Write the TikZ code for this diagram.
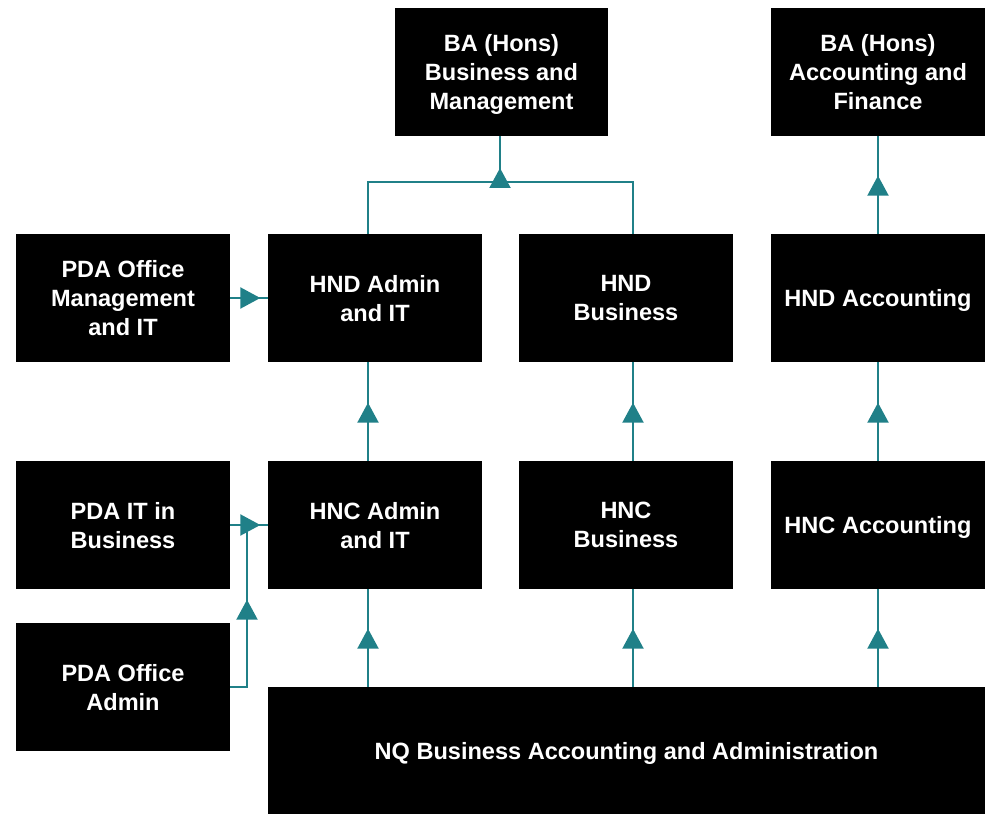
\documentclass[tikz,border=0pt]{standalone}
\usepackage{fontspec}
\setmainfont{Liberation Sans}
\usetikzlibrary{arrows.meta,decorations.markings}
\definecolor{teal}{RGB}{32,128,136}

\begin{document}
\begin{tikzpicture}[x=0.02cm,y=-0.02cm,
    box/.style={fill=black,text=white,align=center,inner sep=0pt,
      minimum width=4.28cm,minimum height=2.56cm,text depth=0pt,
      font=\fontsize{13.4}{16.5}\selectfont\bfseries},
    line/.style={draw=teal,line width=1.2pt},
    midtip/.style={postaction={decorate},decoration={markings,
      mark=at position #1 with {\arrow[teal]{Triangle[length=4mm,width=4.2mm]}}}}]
      \useasboundingbox (0,0) rectangle (991,814);

      \node[box] (babus) at (501.5,72) {BA (Hons)\\Business and\\Management};
      \node[box] (baacc) at (878,72) {BA (Hons)\\Accounting and\\Finance};

      \node[box] (pdamgmt) at (123,298) {PDA Office\\Management\\and IT};
      \node[box] (hndadmin) at (375,298) {HND Admin\\and IT};
      \node[box] (hndbus) at (626,298) {HND\\Business};
      \node[box] (hndacc) at (878,298) {HND Accounting};

      \node[box] (pdait) at (123,525) {PDA IT in\\Business};
      \node[box] (hncadmin) at (375,525) {HNC Admin\\and IT};
      \node[box] (hncbus) at (626,525) {HNC\\Business};
      \node[box] (hncacc) at (878,525) {HNC Accounting};

      \node[box] (pdaoff) at (123,687) {PDA Office\\Admin};
      \node[box,minimum width=14.34cm,minimum height=2.54cm] (nq) at (626.5,750.5)
        {NQ Business Accounting and Administration};

      \coordinate (colA) at (368,0);
      \coordinate (colB) at (633,0);
      \coordinate (colC) at (878,0);
      \coordinate (split) at (500,182);
      \coordinate (merge) at (247,525);

      \draw[line] (hndadmin.north -| colA) |- (split) -| (hndbus.north -| colB);
      \draw[line,midtip=0.28cm] (split) -- (split |- babus.south);
      \draw[line,midtip=1.16cm] (hndacc.north -| colC) -- (baacc.south -| colC);

      \draw[line,midtip=0.6cm] (pdamgmt.east) -- (hndadmin.west);
      \draw[line,midtip=1.16cm] (hncadmin.north -| colA) -- (hndadmin.south -| colA);
      \draw[line,midtip=1.16cm] (hncbus.north -| colB) -- (hndbus.south -| colB);
      \draw[line,midtip=1.16cm] (hncacc.north -| colC) -- (hndacc.south -| colC);

      \draw[line,midtip=0.6cm] (pdait.east) -- (hncadmin.west);
      \draw[line,midtip=2.08cm] (pdaoff.east) -| (merge);
      \draw[line,midtip=1.16cm] (nq.north -| colA) -- (hncadmin.south -| colA);
      \draw[line,midtip=1.16cm] (nq.north -| colB) -- (hncbus.south -| colB);
      \draw[line,midtip=1.16cm] (nq.north -| colC) -- (hncacc.south -| colC);
    \end{tikzpicture}
\end{document}
